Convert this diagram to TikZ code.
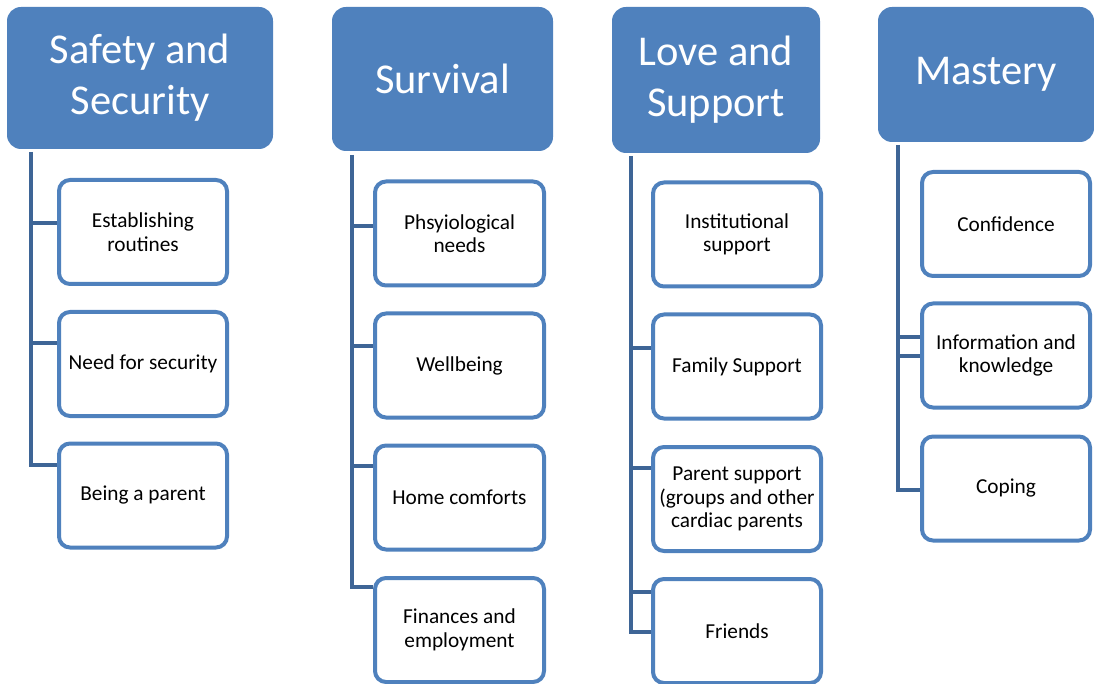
\documentclass[tikz,border=0pt]{standalone}
\usepackage{fontspec}
\setmainfont{Carlito}
\usetikzlibrary{backgrounds}
\definecolor{hblue}{RGB}{79,129,189}
\definecolor{cblue}{RGB}{62,101,150}
\tikzset{
  head/.style={fill=hblue, rounded corners=14pt, text=white, align=center, inner sep=0pt,
    font=\fontsize{42.5}{51}\selectfont},
  item/.style={draw=hblue, line width=4pt, fill=white, rounded corners=11pt, align=center,
    inner sep=0pt, minimum width=168pt, minimum height=104pt,
    font=\fontsize{21.3}{23.5}\selectfont},
  conn/.style={draw=cblue, line width=4.5pt},
}
\begin{document}
\begin{tikzpicture}[x=1pt,y=-1pt]
\useasboundingbox (0,0) rectangle (1094,684);
% headers
\node[head, minimum width=266pt, minimum height=142pt] (h1) at (140,78) {Safety and\\Security};
\node[head, minimum width=221pt, minimum height=144pt] (h2) at (442.5,79) {Survival};
\node[head, minimum width=208pt, minimum height=146pt] (h3) at (716,80) {Love and\\Support};
\node[head, minimum width=216pt, minimum height=135pt] (h4) at (986,74.5) {\raisebox{-3pt}{Mastery}};
% column 1
\node[item] (c11) at (143,232) {Establishing\\routines};
\node[item] (c12) at (143,364) {Need for security};
\node[item] (c13) at (143,495.5) {Being a parent};
% column 2
\node[item, minimum width=169pt] (c21) at (459.5,233.5) {Phsyiological\\needs};
\node[item, minimum width=169pt] (c22) at (459.5,365.5) {Wellbeing};
\node[item, minimum width=169pt] (c23) at (459.5,497.5) {Home comforts};
\node[item, minimum width=169pt] (c24) at (459.5,630) {Finances and\\employment};
% column 3
\node[item] (c31) at (737,234.5) {Institutional\\support};
\node[item] (c32) at (737,366.5) {Family Support};
\node[item] (c33) at (737,499) {Parent support\\(groups and other\\cardiac parents};
\node[item] (c34) at (737,631) {Friends};
% column 4
\node[item] (c41) at (1006,224) {Confidence};
\node[item] (c42) at (1006,355.5) {Information and\\knowledge};
\node[item] (c43) at (1006,488.5) {Coping};
% connector points
\coordinate (t1) at (31,152);
\coordinate (b11) at (31,223);
\coordinate (b12) at (31,343);
\coordinate (b13) at (31,465);
\coordinate (t2) at (352,155);
\coordinate (b21) at (352,226);
\coordinate (b22) at (352,346);
\coordinate (b23) at (352,466);
\coordinate (b24) at (352,587);
\coordinate (t3) at (631,156);
\coordinate (b31) at (631,348);
\coordinate (b32) at (631,468);
\coordinate (b33) at (631,592);
\coordinate (b34) at (631,632);
\coordinate (t4) at (898,145);
\coordinate (b41) at (898,337);
\coordinate (b42) at (898,356);
\coordinate (b43) at (898,490);
\begin{scope}[on background layer]
\draw[conn] (t1) |- (c13.west |- b13);
\draw[conn] (b11) -- (c11.west |- b11);
\draw[conn] (b12) -- (c12.west |- b12);
\draw[conn] (t2) |- (c24.west |- b24);
\draw[conn] (b21) -- (c21.west |- b21);
\draw[conn] (b22) -- (c22.west |- b22);
\draw[conn] (b23) -- (c23.west |- b23);
\draw[conn] (t3) |- (c34.west |- b34);
\draw[conn] (b31) -- (c32.west |- b31);
\draw[conn] (b32) -- (c33.west |- b32);
\draw[conn] (b33) -- (c34.west |- b33);
\draw[conn] (t4) |- (c43.west |- b43);
\draw[conn] (b41) -- (c42.west |- b41);
\draw[conn] (b42) -- (c42.west |- b42);
\end{scope}
\end{tikzpicture}
\end{document}
